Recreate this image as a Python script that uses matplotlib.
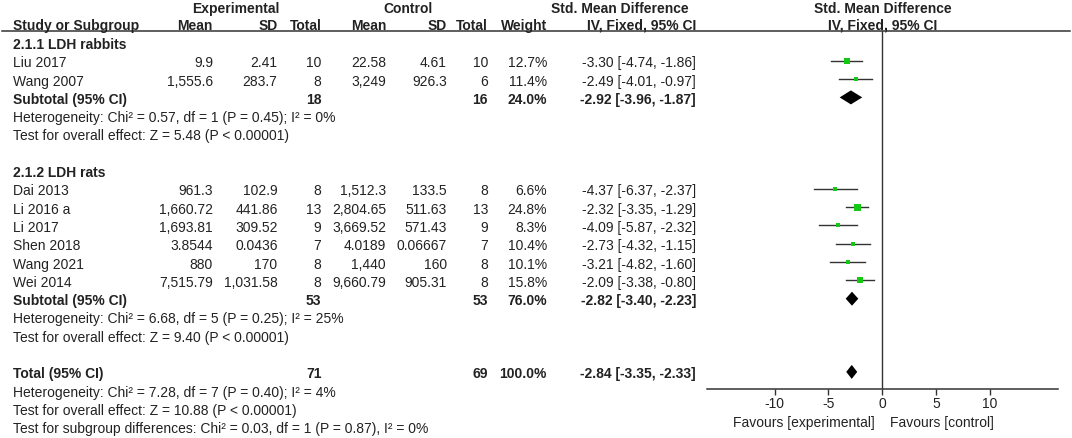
import numpy as np
import matplotlib
matplotlib.use("Agg")
import matplotlib.pyplot as plt
from matplotlib.transforms import blended_transform_factory

# ---- data ----
g1_name = "2.1.1 LDH rabbits"
g1_study = ["Liu 2017", "Wang 2007"]
g1_exp_mean = ["9.9", "1,555.6"]
g1_exp_sd = ["2.41", "283.7"]
g1_exp_n = [10, 8]
g1_ctl_mean = ["22.58", "3,249"]
g1_ctl_sd = ["4.61", "926.3"]
g1_ctl_n = [10, 6]
g1_weight = [12.7, 11.4]
g1_smd = [-3.30, -2.49]
g1_lo = [-4.74, -4.01]
g1_hi = [-1.86, -0.97]
g1_sub = dict(exp_n=18, ctl_n=16, weight=24.0, smd=-2.92, lo=-3.96, hi=-1.87)
g1_het = "Heterogeneity: Chi² = 0.57, df = 1 (P = 0.45); I² = 0%"
g1_test = "Test for overall effect: Z = 5.48 (P < 0.00001)"

g2_name = "2.1.2 LDH rats"
g2_study = ["Dai 2013", "Li 2016 a", "Li 2017", "Shen 2018", "Wang 2021", "Wei 2014"]
g2_exp_mean = ["961.3", "1,660.72", "1,693.81", "3.8544", "880", "7,515.79"]
g2_exp_sd = ["102.9", "441.86", "309.52", "0.0436", "170", "1,031.58"]
g2_exp_n = [8, 13, 9, 7, 8, 8]
g2_ctl_mean = ["1,512.3", "2,804.65", "3,669.52", "4.0189", "1,440", "9,660.79"]
g2_ctl_sd = ["133.5", "511.63", "571.43", "0.06667", "160", "905.31"]
g2_ctl_n = [8, 13, 9, 7, 8, 8]
g2_weight = [6.6, 24.8, 8.3, 10.4, 10.1, 15.8]
g2_smd = [-4.37, -2.32, -4.09, -2.73, -3.21, -2.09]
g2_lo = [-6.37, -3.35, -5.87, -4.32, -4.82, -3.38]
g2_hi = [-2.37, -1.29, -2.32, -1.15, -1.60, -0.80]
g2_sub = dict(exp_n=53, ctl_n=53, weight=76.0, smd=-2.82, lo=-3.40, hi=-2.23)
g2_het = "Heterogeneity: Chi² = 6.68, df = 5 (P = 0.25); I² = 25%"
g2_test = "Test for overall effect: Z = 9.40 (P < 0.00001)"

total = dict(exp_n=71, ctl_n=69, weight=100.0, smd=-2.84, lo=-3.35, hi=-2.33)
total_het = "Heterogeneity: Chi² = 7.28, df = 7 (P = 0.40); I² = 4%"
total_test = "Test for overall effect: Z = 10.88 (P < 0.00001)"
subgroup_test = "Test for subgroup differences: Chi² = 0.03, df = 1 (P = 0.87), I² = 0%"

ticks = [-10, -5, 0, 5, 10]
xlim = (-16.3, 16.3)

# ---- layout (pixels) ----
W, H = 1072, 438
TXT = "#222222"
GREEN = "#14c814"
FS = 10
plt.rcParams.update({"font.family": ["Liberation Sans", "DejaVu Sans"], "font.size": FS})
CAP = 0.716 * FS * 100 / 72  # cap height in px, used to centre text on a row

col_label = 13
col_emean, col_esd, col_en = 213, 277.5, 321.5
col_cmean, col_csd, col_cn = 386, 447, 488
col_w, col_ci = 547, 696
row0, row_h = 44, 18.3


def ry(k):
    return row0 + row_h * k


fig = plt.figure(figsize=(W / 100, H / 100), dpi=100)
ax_t = fig.add_axes([0, 0, 1, 1])
ax_t.set_xlim(0, W)
ax_t.set_ylim(H, 0)
ax_t.axis("off")

ax_f = fig.add_axes([706.7 / W, (H - 389) / H, (1058 - 706.7) / W, (389 - 31) / H])
ax_f.set_xlim(*xlim)
ax_f.set_ylim(389, 31)
ax_f.patch.set_alpha(0)
for s in ("top", "left", "right"):
    ax_f.spines[s].set_visible(False)
ax_f.spines["bottom"].set_color("#333333")
ax_f.spines["bottom"].set_linewidth(1.1)
ax_f.set_yticks([])
ax_f.set_xticks(ticks)
ax_f.set_xticklabels([str(t) for t in ticks])
ax_f.tick_params(axis="x", direction="out", length=4, width=1.0, color="#333333",
                 labelsize=FS, labelcolor=TXT, pad=1.5)
ax_f.axvline(0, color="#333333", linewidth=1.0)


def txt(x, y, s, ha="right", bold=False, **kw):
    ax_t.text(x, y + CAP / 2, s, ha=ha, va="baseline", color=TXT,
              fontweight="bold" if bold else "normal", **kw)


# header
txt(236, 8.5, "Experimental", ha="center", bold=True)
txt(408, 8.5, "Control", ha="center", bold=True)
txt(620, 8.5, "Std. Mean Difference", ha="center", bold=True)
txt(883, 8.5, "Std. Mean Difference", ha="center", bold=True)
for x, s, ha in [(col_label, "Study or Subgroup", "left"), (col_emean, "Mean", "right"),
                 (col_esd, "SD", "right"), (col_en, "Total", "right"),
                 (col_cmean, "Mean", "right"), (col_csd, "SD", "right"),
                 (col_cn, "Total", "right"), (col_w, "Weight", "right"),
                 (col_ci, "IV, Fixed, 95% CI", "right"), (883, "IV, Fixed, 95% CI", "center")]:
    txt(x, 25, s, ha=ha, bold=True)
ax_t.plot([2, 1070], [31, 31], color="#333333", linewidth=1.1)


def ci_str(m, lo, hi):
    return f"{m:.2f} [{lo:.2f}, {hi:.2f}]"


def draw_summary(k, label, d):
    y = ry(k)
    txt(col_label, y, label, ha="left", bold=True)
    txt(col_en, y, str(d["exp_n"]), bold=True)
    txt(col_cn, y, str(d["ctl_n"]), bold=True)
    txt(col_w, y, f"{d['weight']:.1f}%", bold=True)
    txt(col_ci, y, ci_str(d["smd"], d["lo"], d["hi"]), bold=True)
    ym = y - 1.5
    h = 7.0
    ax_f.fill([d["lo"], d["smd"], d["hi"], d["smd"]], [ym, ym - h, ym, ym + h],
              color="black", linewidth=0)


def draw_group(k0, name, study, em, esd, en, cm, csd, cn, w, smd, lo, hi, sub, het, test):
    txt(col_label, ry(k0), name, ha="left", bold=True)
    for i in range(len(study)):
        y = ry(k0 + 1 + i)
        txt(col_label, y, study[i], ha="left")
        txt(col_emean, y, em[i])
        txt(col_esd, y, esd[i])
        txt(col_en, y, str(en[i]))
        txt(col_cmean, y, cm[i])
        txt(col_csd, y, csd[i])
        txt(col_cn, y, str(cn[i]))
        txt(col_w, y, f"{w[i]:.1f}%")
        txt(col_ci, y, ci_str(smd[i], lo[i], hi[i]))
        ym = y - 1.5
        ax_f.plot([lo[i], hi[i]], [ym, ym], color="#333333", linewidth=1.0)
        side = 7.0 * np.sqrt(w[i] / 24.8)
        ax_f.plot([smd[i]], [ym], marker="s", markersize=side * 0.72, color=GREEN,
                  markeredgewidth=0)
    k = k0 + 1 + len(study)
    draw_summary(k, "Subtotal (95% CI)", sub)
    txt(col_label, ry(k + 1), het, ha="left")
    txt(col_label, ry(k + 2), test, ha="left")
    return k + 2


k = draw_group(0, g1_name, g1_study, g1_exp_mean, g1_exp_sd, g1_exp_n, g1_ctl_mean,
               g1_ctl_sd, g1_ctl_n, g1_weight, g1_smd, g1_lo, g1_hi, g1_sub, g1_het, g1_test)
k = draw_group(k + 2, g2_name, g2_study, g2_exp_mean, g2_exp_sd, g2_exp_n, g2_ctl_mean,
               g2_ctl_sd, g2_ctl_n, g2_weight, g2_smd, g2_lo, g2_hi, g2_sub, g2_het, g2_test)
k += 2
draw_summary(k, "Total (95% CI)", total)
txt(col_label, ry(k + 1), total_het, ha="left")
txt(col_label, ry(k + 2), total_test, ha="left")
txt(col_label, ry(k + 3), subgroup_test, ha="left")

tr = blended_transform_factory(ax_f.transData, ax_t.transData)
ax_f.text(-0.75, 422 + CAP / 2, "Favours [experimental]", ha="right", va="baseline",
          color=TXT, fontsize=FS, transform=tr, clip_on=False)
ax_f.text(0.75, 422 + CAP / 2, "Favours [control]", ha="left", va="baseline",
          color=TXT, fontsize=FS, transform=tr, clip_on=False)

fig.savefig("out.png", dpi=100)
